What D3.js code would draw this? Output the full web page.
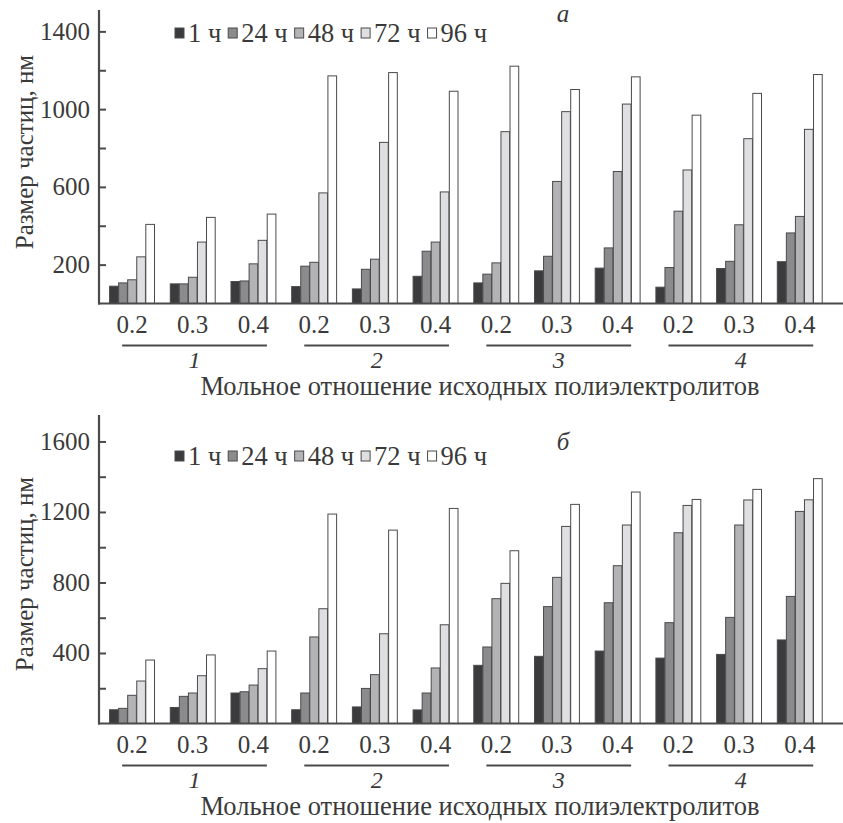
<!DOCTYPE html>
<html>
<head>
<meta charset="utf-8">
<script src="https://cdn.jsdelivr.net/npm/d3@7"></script>
</head>
<body style="margin:0">
<svg id="fig" width="843" height="823" font-family="Liberation Serif"></svg>
<script>
// categories
var ratios = ["0.2", "0.3", "0.4"];
var systems = ["1", "2", "3", "4"];
var series = ["1 ч", "24 ч", "48 ч", "72 ч", "96 ч"];
var xTitle = "Мольное отношение исходных полиэлектролитов";
var yTitle = "Размер частиц, нм";

// panel a values (12 groups: system 1..4 x ratio 0.2..0.4)
var a1h  = [89, 101, 113, 87, 75, 140, 106, 168, 182, 84, 180, 215];
var a24h = [106, 101, 116, 192, 176, 269, 151, 243, 286, 185, 217, 363];
var a48h = [122, 135, 204, 212, 228, 316, 209, 628, 679, 475, 405, 448];
var a72h = [240, 316, 325, 569, 829, 574, 884, 987, 1026, 687, 848, 896];
var a96h = [407, 443, 460, 1171, 1188, 1092, 1221, 1101, 1166, 969, 1081, 1178];

// panel b values
var b1h  = [78, 91, 173, 78, 94, 77, 330, 381, 411, 371, 392, 474];
var b24h = [86, 154, 180, 173, 199, 173, 434, 663, 685, 572, 602, 721];
var b48h = [160, 173, 218, 491, 277, 315, 708, 829, 895, 1082, 1126, 1203];
var b72h = [241, 271, 311, 651, 509, 560, 795, 1118, 1126, 1237, 1268, 1269];
var b96h = [360, 389, 411, 1188, 1097, 1220, 980, 1243, 1313, 1271, 1328, 1389];

// tick labels
var yLabelsA = [200, 600, 1000, 1400];
var yMinorA = [400, 800, 1200];
var yLabelsB = [400, 800, 1200, 1600];
var yMinorB = [200, 600, 1000, 1400];

var colors = ["#3b3b3d", "#8b8b8d", "#b3b3b5", "#dfdfe1", "#ffffff"];
var INK = "#3a3a3a";

var svg = d3.select("#fig");

function label(sel, size) {
    return sel.style("font-family", "'Liberation Serif'").style("font-size", size + "px").style("fill", INK);
}

// group keys
var groups = [];
systems.forEach(function (s) {
    ratios.forEach(function (r) { groups.push(s + "|" + r); });
});

var x = d3.scaleBand().domain(groups).range([93.8, 838]).padding(0.26);
var xIn = d3.scaleBand().domain(series).range([0, x.bandwidth()]).paddingInner(0.04);

function drawPanel(cfg) {
    var y = d3.scaleLinear().domain([0, cfg.max]).range([cfg.base, cfg.top]);
    var g = svg.append("g");

    // bars
    var rows = groups.map(function (k, i) {
        return { key: k, vals: cfg.values.map(function (arr) { return arr[i]; }) };
    });
    var grp = g.selectAll(".grp").data(rows).enter().append("g")
        .attr("class", "grp")
        .attr("transform", function (d) { return "translate(" + x(d.key) + ",0)"; });
    grp.selectAll("rect")
        .data(function (d) { return d.vals.map(function (v, j) { return { s: series[j], v: v, j: j }; }); })
        .enter().append("rect")
        .attr("x", function (d) { return xIn(d.s); })
        .attr("width", xIn.bandwidth())
        .attr("y", function (d) { return y(d.v); })
        .attr("height", function (d) { return cfg.base - y(d.v); })
        .style("fill", function (d) { return colors[d.j]; })
        .style("stroke", "#4a4a4c")
        .style("stroke-width", 1);

    // Y axis
    var labels = cfg.labels;
    var yAxis = d3.axisLeft(y)
        .tickValues(labels.concat(cfg.minor).sort(d3.ascending))
        .tickSizeInner(-7)
        .tickSizeOuter(0)
        .tickPadding(9)
        .tickFormat(function (d) { return labels.indexOf(d) >= 0 ? d : ""; });
    var ya = g.append("g").attr("transform", "translate(99,0)").call(yAxis);
    ya.attr("font-family", "Liberation Serif").attr("font-size", 25);
    ya.select(".domain").remove();
    ya.selectAll("line").style("stroke", "#4a4a4a").style("stroke-width", 2);
    label(ya.selectAll("text"), 25);
    g.append("line")
        .attr("x1", 99).attr("x2", 99).attr("y1", cfg.top).attr("y2", cfg.base + 1)
        .style("stroke", "#4a4a4a").style("stroke-width", 2.2);

    // X axis baseline
    g.append("line")
        .attr("x1", 98).attr("x2", 843).attr("y1", cfg.base).attr("y2", cfg.base)
        .style("stroke", "#4a4a4a").style("stroke-width", 2.2);

    // ratio labels
    label(g.selectAll(".rl").data(groups).enter().append("text")
        .attr("x", function (d) { return x(d) + x.bandwidth() / 2; })
        .attr("y", cfg.base + 29)
        .attr("text-anchor", "middle")
        .text(function (d) { return d.split("|")[1]; }), 25);

    // system underlines and numbers
    systems.forEach(function (s) {
        var x0 = x(s + "|" + ratios[0]) + x.bandwidth() * 0.28;
        var x1 = x(s + "|" + ratios[ratios.length - 1]) + x.bandwidth() * 0.8;
        g.append("line")
            .attr("x1", x0).attr("x2", x1)
            .attr("y1", cfg.base + 42).attr("y2", cfg.base + 42)
            .style("stroke", "#4a4a4a").style("stroke-width", 2);
        label(g.append("text")
            .attr("x", (x0 + x1) / 2)
            .attr("y", cfg.base + 64)
            .attr("text-anchor", "middle")
            .style("font-style", "italic")
            .text(s), 24);
    });

    // axis titles
    label(g.append("text")
        .attr("x", 480).attr("y", cfg.base + 91)
        .attr("text-anchor", "middle")
        .text(xTitle), 26.5);
    label(g.append("text")
        .attr("transform", "translate(33," + cfg.titleY + ") rotate(-90)")
        .attr("text-anchor", "middle")
        .text(yTitle), 25);

    // panel letter
    label(g.append("text")
        .attr("x", 563).attr("y", cfg.letterY)
        .attr("text-anchor", "middle")
        .style("font-style", "italic")
        .text(cfg.letter), 25);

    // legend
    var lx = 175;
    series.forEach(function (s, j) {
        g.append("rect")
            .attr("x", lx).attr("y", cfg.legendY - 5)
            .attr("width", 9).attr("height", 10)
            .style("fill", colors[j])
            .style("stroke", "#4a4a4c").style("stroke-width", 1);
        var t = label(g.append("text")
            .attr("x", lx + 13).attr("y", cfg.legendY + 9)
            .text(s), 26.5);
        lx = lx + 13 + t.node().getComputedTextLength() + 7;
    });
}

drawPanel({
    values: [a1h, a24h, a48h, a72h, a96h],
    max: 1510, base: 303.5, top: 10,
    labels: yLabelsA, minor: yMinorA,
    titleY: 152, letterY: 22, letter: "а", legendY: 33
});

drawPanel({
    values: [b1h, b24h, b48h, b72h, b96h],
    max: 1750, base: 723.5, top: 415,
    labels: yLabelsB, minor: yMinorB,
    titleY: 574, letterY: 450, letter: "б", legendY: 456
});
</script>
</body>
</html>
